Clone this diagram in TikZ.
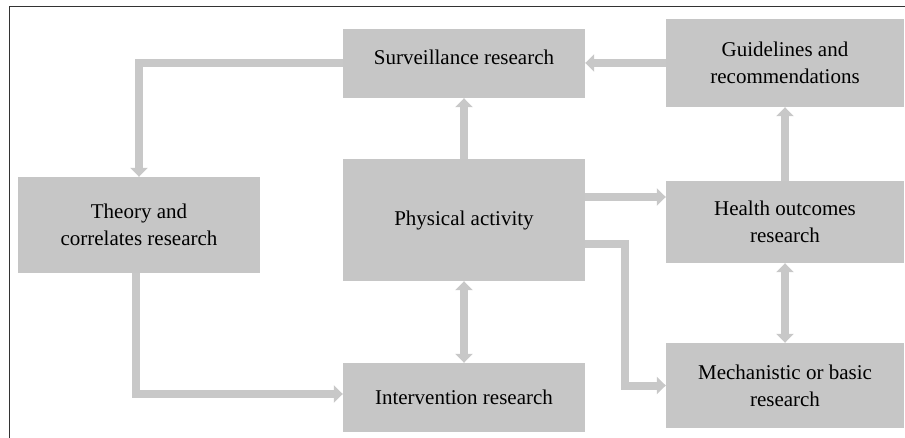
\documentclass[tikz,border=0pt]{standalone}
\usepackage{fontspec}
\setmainfont{Liberation Serif}
\usetikzlibrary{arrows.meta}
\definecolor{boxgray}{HTML}{C6C6C6}
\definecolor{arrgray}{HTML}{C8C8C8}
\definecolor{framegray}{HTML}{333333}
\tikzset{
  box/.style={rectangle, fill=boxgray, draw=none, align=center, inner sep=0pt,
    font=\fontsize{21}{27}\selectfont, text=black},
  conn/.style={draw=arrgray, line width=8pt, line join=miter,
    -{Triangle[width=17pt,length=9pt]}},
  dconn/.style={draw=arrgray, line width=8pt,
    {Triangle[width=17pt,length=9pt]}-{Triangle[width=17pt,length=9pt]}},
  frameline/.style={draw=framegray, line width=1.8pt}
}
\begin{document}
\begin{tikzpicture}[x=1pt, y=-1pt]
\useasboundingbox (0,0) rectangle (905,438);
\draw[frameline] (9.5,440) -- (9.5,6.5) -- (907,6.5);

\node[box, minimum width=242pt, minimum height=69pt, text depth=12pt] (surv) at (464,63.5) {Surveillance research};
\node[box, minimum width=238pt, minimum height=88pt] (guide) at (785,63) {Guidelines and\\recommendations};
\node[box, minimum width=242pt, minimum height=96pt] (theory) at (139,225) {Theory and\\correlates research};
\node[box, minimum width=242pt, minimum height=122pt] (pa) at (464,220) {Physical activity};
\node[box, minimum width=238pt, minimum height=82pt] (health) at (785,222) {Health outcomes\\research};
\node[box, minimum width=242pt, minimum height=69pt] (interv) at (464,397.5) {Intervention research};
\node[box, minimum width=238pt, minimum height=85pt] (mech) at (785,385.5) {Mechanistic or basic\\research};

\coordinate (a2) at ([xshift=-3pt]theory.south);
\coordinate (b2) at ([yshift=3.5pt]interv.west);
\coordinate (a5) at ([yshift=23pt]pa.east);
\coordinate (a7) at ([yshift=-24pt]pa.east);
\coordinate (k7) at (625,244);

\draw[conn] (surv.west) -| (theory.north);
\draw[conn] (a2) |- (b2);
\draw[conn] (guide.west) -- (surv.east |- guide.west);
\draw[conn] (pa.north) -- (surv.south);
\draw[conn] (a5) -- (a5 -| health.west);
\draw[conn] (health.north) -- (guide.south);
\draw[conn] (a7) -- (k7) |- (mech.west);
\draw[dconn] (pa.south) -- (interv.north);
\draw[dconn] (health.south) -- (mech.north);
\end{tikzpicture}
\end{document}
